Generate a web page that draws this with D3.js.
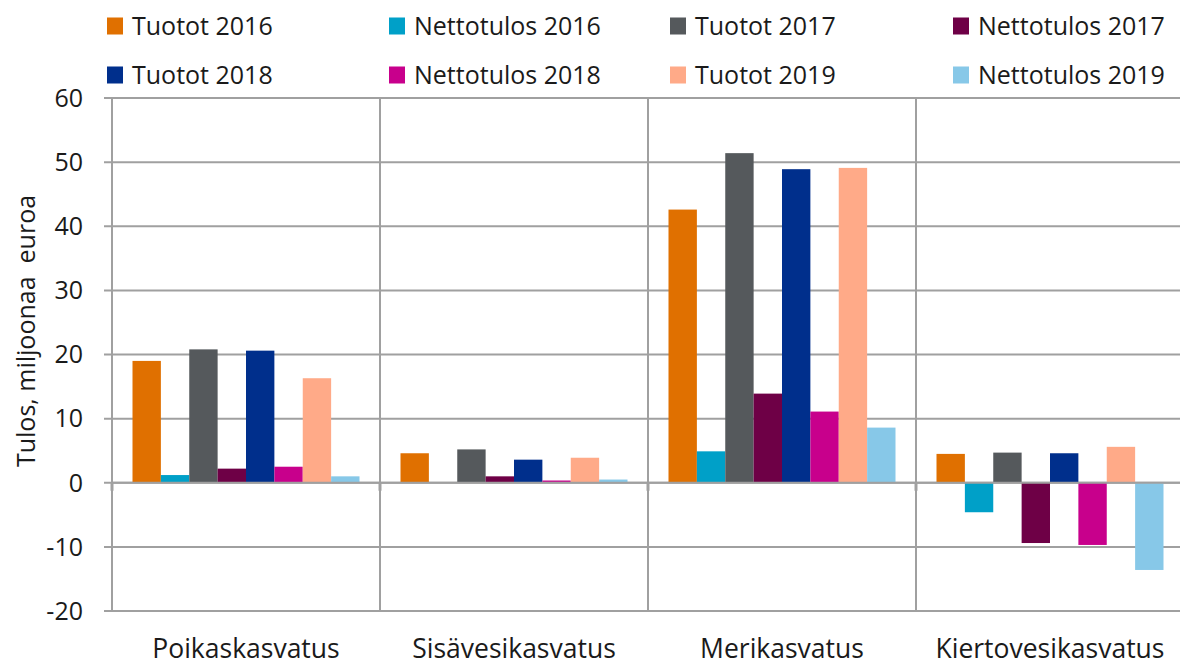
<!DOCTYPE html>
<html>
<head>
<meta charset="utf-8">
<script src="https://cdn.jsdelivr.net/npm/d3@7"></script>
<style>
  html, body { margin: 0; padding: 0; background: #fff; }
  svg { display: block; font-family: "Open Sans", "Noto Sans", sans-serif; }
</style>
</head>
<body>
<svg id="chart" width="1180" height="668"></svg>
<script>
// data
const categories = ["Poikaskasvatus", "Sisävesikasvatus", "Merikasvatus", "Kiertovesikasvatus"];
const seriesNames = ["Tuotot 2016", "Nettotulos 2016", "Tuotot 2017", "Nettotulos 2017",
                     "Tuotot 2018", "Nettotulos 2018", "Tuotot 2019", "Nettotulos 2019"];
const seriesColors = ["#e07000", "#00a0c8", "#55595c", "#6e0046",
                      "#002f8c", "#c8008c", "#ffaa88", "#87c8e8"];
// values per series, in category order
const tuotot2016     = [19.0, 4.6, 42.6, 4.5];
const nettotulos2016 = [1.2, 0.0, 4.9, -4.6];
const tuotot2017     = [20.8, 5.2, 51.4, 4.7];
const nettotulos2017 = [2.2, 1.0, 13.9, -9.4];
const tuotot2018     = [20.6, 3.6, 48.9, 4.6];
const nettotulos2018 = [2.5, 0.35, 11.1, -9.7];
const tuotot2019     = [16.3, 3.9, 49.1, 5.6];
const nettotulos2019 = [1.0, 0.5, 8.6, -13.6];
const seriesValues = [tuotot2016, nettotulos2016, tuotot2017, nettotulos2017,
                      tuotot2018, nettotulos2018, tuotot2019, nettotulos2019];
const yTicks = [-20, -10, 0, 10, 20, 30, 40, 50, 60];
const yTitle = "Tulos, miljoonaa  euroa";

const svg = d3.select("#chart");
const plot = { left: 112, right: 1184, top: 98, bottom: 611 };
const gridColor = "#a0a0a0";
const textColor = "#1a1a1a";

const y = d3.scaleLinear().domain([-20, 60]).range([plot.bottom, plot.top]);
const x0 = d3.scaleBand().domain(categories).range([plot.left, plot.right]).padding(0);
const gap = 20.5;
const x1 = d3.scaleBand().domain(seriesNames).range([gap, x0.bandwidth() - gap]).padding(0);

// horizontal grid lines
svg.append("g")
  .selectAll("line")
  .data(yTicks)
  .join("line")
    .attr("x1", plot.left - 8)
    .attr("x2", plot.right)
    .attr("y1", d => y(d))
    .attr("y2", d => y(d))
    .attr("stroke", gridColor)
    .attr("stroke-width", 2);

// vertical category separators
svg.append("g")
  .selectAll("line")
  .data(categories.slice(1))
  .join("line")
    .attr("x1", d => x0(d))
    .attr("x2", d => x0(d))
    .attr("y1", plot.top)
    .attr("y2", plot.bottom)
    .attr("stroke", gridColor)
    .attr("stroke-width", 2);

// left axis line
svg.append("line")
  .attr("x1", plot.left).attr("x2", plot.left)
  .attr("y1", plot.top).attr("y2", plot.bottom)
  .attr("stroke", gridColor).attr("stroke-width", 2);

// bars
const rows = [];
seriesNames.forEach((s, si) => {
  categories.forEach((c, ci) => rows.push({ s, c, v: seriesValues[si][ci], color: seriesColors[si] }));
});
svg.append("g")
  .selectAll("rect")
  .data(rows.filter(d => d.v !== 0))
  .join("rect")
    .attr("x", d => x0(d.c) + x1(d.s))
    .attr("width", x1.bandwidth())
    .attr("y", d => y(Math.max(0, d.v)))
    .attr("height", d => Math.abs(y(d.v) - y(0)))
    .attr("fill", d => d.color);

// zero line with category tick marks
svg.append("line")
  .attr("x1", plot.left).attr("x2", plot.right)
  .attr("y1", y(0)).attr("y2", y(0))
  .attr("stroke", gridColor).attr("stroke-width", 2);
svg.append("g")
  .selectAll("line")
  .data(categories)
  .join("line")
    .attr("x1", d => x0(d))
    .attr("x2", d => x0(d))
    .attr("y1", y(0))
    .attr("y2", y(0) + 8)
    .attr("stroke", gridColor)
    .attr("stroke-width", 3);

// y tick labels
svg.append("g")
  .selectAll("text")
  .data(yTicks)
  .join("text")
    .attr("x", 83)
    .attr("y", d => y(d))
    .attr("dy", "0.35em")
    .attr("text-anchor", "end")
    .attr("font-size", 25)
    .attr("fill", textColor)
    .text(d => d);

// y title
svg.append("text")
  .attr("transform", `translate(35, 331) rotate(-90)`)
  .attr("text-anchor", "middle")
  .attr("font-size", 25)
  .attr("fill", textColor)
  .attr("xml:space", "preserve")
  .style("white-space", "pre")
  .text(yTitle);

// category labels
svg.append("g")
  .selectAll("text")
  .data(categories)
  .join("text")
    .attr("x", d => x0(d) + x0.bandwidth() / 2)
    .attr("y", 658)
    .attr("text-anchor", "middle")
    .attr("font-size", 26.5)
    .attr("fill", textColor)
    .text(d => d);

// legend
const legendX = [107, 389, 670, 953];
const legendY = [26, 75];
const legend = svg.append("g")
  .selectAll("g")
  .data(seriesNames)
  .join("g")
    .attr("transform", (d, i) => `translate(${legendX[i % 4]}, ${legendY[Math.floor(i / 4)]})`);
legend.append("rect")
  .attr("x", 0).attr("y", -8.5)
  .attr("width", 16).attr("height", 17)
  .attr("fill", (d, i) => seriesColors[i]);
legend.append("text")
  .attr("x", 25)
  .attr("dy", "0.35em")
  .attr("font-size", 25)
  .attr("fill", textColor)
  .text(d => d);
</script>
</body>
</html>
